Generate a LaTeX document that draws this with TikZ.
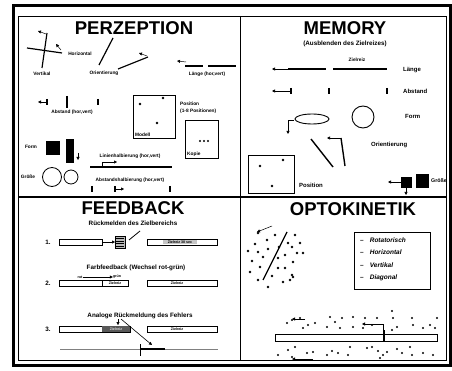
\documentclass[tikz,border=0pt]{standalone}
\usepackage{fontspec}
\setmainfont{Liberation Sans}
\usetikzlibrary{arrows.meta}
\begin{document}
\begin{tikzpicture}[x=1pt, y=-1pt,
  ttl/.style={font=\fontsize{18.5}{18}\selectfont\bfseries, inner sep=0pt},
  sub/.style={font=\fontsize{6.3}{7}\selectfont\bfseries, inner sep=0pt},
  lbl/.style={font=\fontsize{4.8}{5}\selectfont\bfseries, inner sep=0pt},
  mlbl/.style={font=\fontsize{6}{6}\selectfont\bfseries, inner sep=0pt, anchor=west},
  tiny/.style={font=\fontsize{3.6}{4}\selectfont\bfseries, inner sep=0pt},
  legend/.style={font=\fontsize{6.5}{7}\selectfont\bfseries\itshape, inner sep=0pt, anchor=west},
  bar/.style={line width=2.8pt},
  tick/.style={line width=1.7pt},
  fbox/.style={draw, line width=0.7pt},
  arr/.style={-{Triangle[length=3pt,width=3pt]}, line width=0.7pt}]
  \useasboundingbox (0,0) rectangle (452,371);
  % frame
  \draw[line width=3pt] (13,6) rectangle (450,365);
  \draw[line width=0.8pt] (18,16) rectangle (446,360);
  \draw[line width=0.9pt] (240,16) -- (240,360);
  \draw[line width=1.3pt] (18,197) -- (446,197);

  % PERZEPTION
  \node[ttl] (perz) at (134,28) {PERZEPTION};
  \draw[line width=1.2pt] (47,33) -- (42,68);
  \draw[line width=1.2pt] (27,48) -- (62,53);
  \draw[arr, line width=0.5pt] (46,34) -- (38,31);
  \draw[arr, line width=0.5pt] (61,50) -- (56,44);
  \node[lbl] (hor) at (80,54) {Horizontal};
  \node[lbl] (vert) at (42,74) {Vertikal};
  \draw[line width=1.2pt] (113,38) -- (99,65);
  \draw[line width=1.2pt] (118,69) -- (148,57);
  \draw[arr, line width=0.5pt] (147,56) -- (139,53);
  \node[lbl] (ori) at (104,73) {Orientierung};
  \draw[arr, line width=0.5pt] (186,62) -- (177,61);
  \draw[bar] (185,66) -- (203,66);
  \draw[bar] (208,66) -- (236,66);
  \node[lbl] (laenge) at (207,74) {Länge (hor,vert)};
  \draw[arr, line width=0.5pt] (46,102) -- (38,102);
  \draw[tick] (47,99) -- (47,105);
  \draw[line width=2pt] (67,96) -- (67,108);
  \draw[tick] (98,99) -- (98,105);
  \node[lbl] (abst) at (72,112) {Abstand (hor,vert)};
  \draw[line width=0.8pt] (133,95) rectangle (175,138);
  \foreach \x/\y in {140/104, 163/98, 157/123}
    \fill (\x,\y) circle (1.3pt);
  \node[lbl, anchor=south west] (modell) at (135,136.5) {Modell};
  \node[lbl, anchor=west] (pos) at (180,104) {Position};
  \node[lbl, anchor=west] (posn) at (180,111) {(1-8 Positionen)};
  \draw[line width=0.8pt] (185,120) rectangle (218,158);
  \foreach \x in {200,204,208}
    \fill (\x,141) circle (1.2pt);
  \node[lbl, anchor=south west] (kopie) at (187,156.5) {Kopie};
  \node[lbl] (form) at (31,147) {Form};
  \fill (46,141) rectangle (60,155);
  \fill (66,139) rectangle (74,163);
  \draw[arr, line width=0.5pt] (78,153) -- (78,160);
  \node[lbl] (linie) at (130,156) {Linienhalbierung (hor,vert)};
  \draw[bar] (90,167) -- (172,167);
  \draw[arr, line width=0.5pt] (102,166) -- (102,162) -- (117,162);
  \node[lbl] (groesse) at (28,177) {Größe};
  \draw[line width=0.8pt] (52,177) circle (9.5pt);
  \draw[line width=0.8pt] (71,177) circle (7pt);
  \node[lbl] (abhalb) at (130,180) {Abstandshalbierung (hor,vert)};
  \draw[tick] (92,186) -- (92,192);
  \draw[tick] (115,186) -- (115,192);
  \draw[arr, line width=0.5pt] (116,189) -- (124,189);
  \draw[tick] (170,186) -- (170,192);

  % MEMORY
  \node[ttl] (mem) at (345,28) {MEMORY};
  \node[sub] (ausbl) at (345,44) {(Ausblenden des Zielreizes)};
  \node[lbl] (ziel) at (357,60) {Zielreiz};
  \draw[arr] (288,69) -- (272,69);
  \draw[bar] (288,69) -- (326,69);
  \draw[bar] (333,69) -- (387,69);
  \node[mlbl] (mlaenge) at (403,70) {Länge};
  \draw[arr] (290,91) -- (272,91);
  \draw[tick] (291,88) -- (291,94);
  \draw[tick] (329,88) -- (329,94);
  \draw[tick] (387,88) -- (387,94);
  \node[mlbl] (mabst) at (403,91) {Abstand};
  \draw[line width=0.9pt] (312,119) ellipse (17pt and 5pt);
  \draw[line width=0.9pt] (363,117) circle (11pt);
  \node[mlbl] (mform) at (405,116) {Form};
  \draw[arr] (294,120) -- (288,120) -- (288,134);
  \draw[line width=1.4pt] (311,139) -- (333,167);
  \draw[line width=1.4pt] (345,166) -- (341,138);
  \draw[arr] (341,138) -- (327,138);
  \node[mlbl] (mori) at (371,145) {Orientierung};
  \draw[line width=0.9pt] (248,155) rectangle (294,193);
  \foreach \x/\y in {260/166, 283/160, 272/186}
    \fill (\x,\y) circle (1.4pt);
  \node[mlbl] (mpos) at (299,185) {Position};
  \fill (401,177) rectangle (412,188);
  \fill (416,174) rectangle (429,188);
  \draw[arr] (401,182) -- (388,182);
  \draw[arr] (406,188) -- (406,195);
  \node[lbl, anchor=west, font=\fontsize{5.3}{6}\selectfont\bfseries] (mgr) at (431,181) {Größe};

  % FEEDBACK
  \node[ttl] (feed) at (133,208) {FEEDBACK};
  \node[sub] (rueck) at (133,223) {Rückmelden des Zielbereichs};
  \node[sub] (n1) at (48,242) {1.};
  \draw[fbox] (59,239) rectangle (102,245);
  \draw[arr, line width=0.5pt] (102,242) -- (115,242);
  \draw[fill=gray!55, line width=0.5pt] (115,236) rectangle (125,248);
  \foreach \y in {238.5,241,243.5,246}
    \draw[line width=0.3pt] (116,\y) -- (124,\y);
  \draw[line width=0.8pt] (129,240) -- (140,231);
  \draw[fbox] (147,239) rectangle (217,245);
  \node[tiny, fill=gray!45, minimum width=34pt, minimum height=4pt] (z1) at (180,242) {Zielreiz 30 sec};
  \node[sub] (farb) at (136,268) {Farbfeedback (Wechsel rot-grün)};
  \node[tiny] (rot) at (80,277) {rot};
  \node[tiny] (gruen) at (117,277) {grün};
  \draw[arr, line width=0.4pt] (rot) -- (gruen);
  \node[sub] (n2) at (48,283) {2.};
  \draw[fbox] (59,280) rectangle (128,286);
  \draw[line width=0.6pt] (102,280) -- (102,286);
  \node[tiny] (z2a) at (115,283) {Zielreiz};
  \draw[fbox] (147,280) rectangle (217,286);
  \node[tiny] (z2b) at (177,283) {Zielreiz};
  \node[sub] (analog) at (140,316) {Analoge Rückmeldung des Fehlers};
  \node[sub] (n3) at (48,329) {3.};
  \draw[fbox] (59,326) rectangle (130,332);
  \fill[gray!70!black] (102,326) rectangle (130,332);
  \node[tiny, text=gray!30] (z3a) at (116,329) {Zielreiz};
  \draw[fbox] (147,326) rectangle (217,332);
  \node[tiny] (z3b) at (177,329) {Zielreiz};
  \draw[arr, line width=0.4pt] (118,319) -- (118,325);
  \draw[arr, line width=0.6pt] (121,319) -- (152,345);
  \draw[gray, line width=1pt] (60,349) -- (218,349);
  \draw[line width=0.6pt] (140,344) -- (140,356);
  \draw[line width=1.3pt] (140,349) -- (165,349);

  % OPTOKINETIK
  \node[ttl] (opto) at (353,209) {OPTOKINETIK};
  \foreach \x/\y in {258/233, 275/235, 295/235, 255/244, 267/240, 288/243,
      300/243, 248/251, 258/252, 268/249, 279/247, 292/247, 297/253,
      303/253, 252/261, 263/257, 278/258, 285/255, 293/262, 260/267,
      278/268, 285/268, 292/275, 293/277, 258/280, 268/287, 283/282,
      290/280, 250/272, 272/276}
    \fill (\x,\y) circle (1.3pt);
  \draw[line width=1.3pt] (287,232) -- (263,280);
  \draw[arr, line width=0.5pt] (272,226) -- (257,232);
  \draw[line width=0.9pt] (354,232) rectangle (430,289);
  \node[legend] (rot1) at (360,240) {–\hspace{6pt}Rotatorisch};
  \node[legend] (hor1) at (360,252) {–\hspace{6pt}Horizontal};
  \node[legend] (vert1) at (360,265) {–\hspace{6pt}Vertikal};
  \node[legend] (diag1) at (360,278) {–\hspace{6pt}Diagonal};
  \draw[line width=0.8pt] (275,334) rectangle (437,341);
  \draw[line width=1.7pt] (384,330) -- (384,342);
  \foreach \x/\y in {392/311, 287/323, 300/318, 308/325, 315/323, 330/317,
      327/327, 335/322, 342/318, 340/328, 353/317, 353/327, 365/318,
      363/328, 377/318, 372/325, 393/318, 397/327, 392/330, 412/318,
      413/325, 423/328, 430/325, 437/318, 435/328, 303/328, 292/320,
      278/355, 288/350, 292/357, 295/347, 307/353, 313/352, 327/355,
      332/351, 338/353, 350/347, 348/355, 367/348, 372/347, 378/351,
      383/355, 387/352, 380/358, 397/349, 402/353, 410/347, 412/355,
      423/353, 433/355}
    \fill (\x,\y) circle (1.2pt);
  \draw[arr, line width=0.5pt] (305,319) -- (292,319);
  \draw[arr, line width=0.5pt] (383,333) -- (383,324) -- (362,324);
  \draw[arr, line width=0.5pt] (313,359) -- (292,359);
\end{tikzpicture}
\end{document}
